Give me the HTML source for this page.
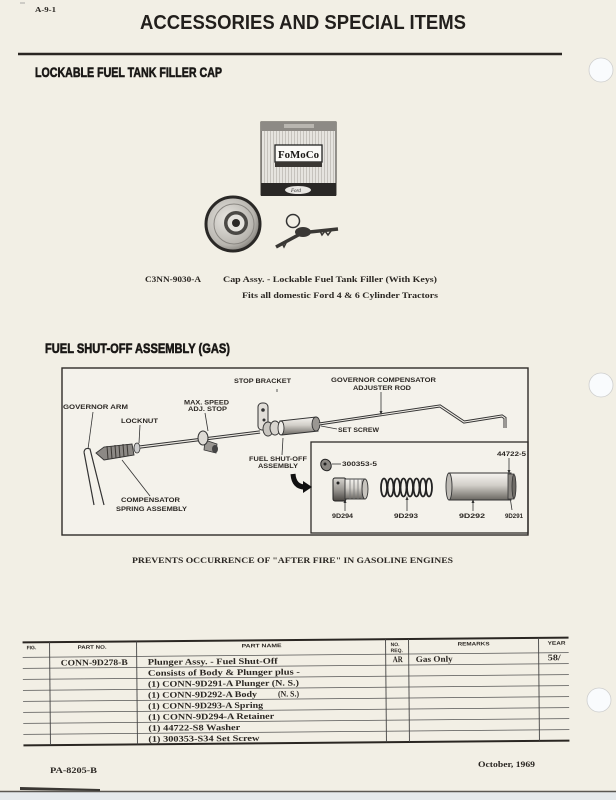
<!DOCTYPE html>
<html><head><meta charset="utf-8"><style>
html,body{margin:0;padding:0;background:#f2efe5;}
svg{display:block}
.s{font-family:"Liberation Serif",serif;font-weight:bold;fill:#2b2723}
.h{font-family:"Liberation Sans",sans-serif;font-weight:bold;fill:#221f1c}
.hh{font-family:"Liberation Sans",sans-serif;font-weight:bold;fill:#1a1816;stroke:#1a1816;stroke-width:0.6}
.l{font-family:"Liberation Sans",sans-serif;font-weight:bold;fill:#2b2723;font-size:6.5px}
.t{font-family:"Liberation Sans",sans-serif;font-weight:bold;fill:#2b2723;font-size:5px}
</style></head><body>
<svg width="616" height="800" viewBox="0 0 616 800" xmlns="http://www.w3.org/2000/svg">
<defs>
<linearGradient id="cyl" x1="0" y1="0" x2="0" y2="1">
 <stop offset="0" stop-color="#f6f4f0"/><stop offset="0.45" stop-color="#d2cfc9"/><stop offset="1" stop-color="#6a6762"/>
</linearGradient>
<linearGradient id="cyl2" x1="0" y1="0" x2="0" y2="1">
 <stop offset="0" stop-color="#d8d5d0"/><stop offset="0.5" stop-color="#9a9792"/><stop offset="1" stop-color="#4a4743"/>
</linearGradient>
<radialGradient id="capg" cx="0.4" cy="0.4" r="0.7">
 <stop offset="0" stop-color="#e8e6e1"/><stop offset="0.7" stop-color="#b8b5af"/><stop offset="1" stop-color="#6a6762"/>
</radialGradient>
<pattern id="stripes" width="3" height="10" patternUnits="userSpaceOnUse"><rect width="3" height="10" fill="#e6e4df"/><rect width="1" height="10" fill="#c6c3bd"/></pattern>
</defs>
<rect width="616" height="800" fill="#f2efe5"/>

<!-- header -->
<line x1="20" y1="3" x2="25" y2="3" stroke="#999" stroke-width="0.8"/>
<text class="s" x="35" y="12" font-size="7" textLength="21" lengthAdjust="spacingAndGlyphs">A-9-1</text>
<text class="h" x="140" y="29" font-size="20" textLength="326" lengthAdjust="spacingAndGlyphs">ACCESSORIES AND SPECIAL ITEMS</text>
<line x1="18" y1="54" x2="562" y2="54" stroke="#2a2622" stroke-width="2.6"/>
<text class="hh" x="35" y="77" font-size="14" textLength="187" lengthAdjust="spacingAndGlyphs">LOCKABLE FUEL TANK FILLER CAP</text>

<!-- holes -->
<circle cx="601" cy="70" r="12" fill="#f9fbfd" stroke="#cfcfcf" stroke-width="0.8"/>
<circle cx="601" cy="385" r="12" fill="#f9fbfd" stroke="#cfcfcf" stroke-width="0.8"/>
<circle cx="599" cy="700" r="12" fill="#f9fbfd" stroke="#cfcfcf" stroke-width="0.8"/>

<!-- FoMoCo box -->
<rect x="261" y="122" width="75" height="73" fill="url(#stripes)" stroke="#3a3733" stroke-width="1"/>
<rect x="261" y="122" width="75" height="9" fill="#8d8a85"/>
<rect x="284" y="124" width="30" height="4" fill="#b9b6b0"/>
<rect x="275" y="145" width="47" height="17" fill="#fbfaf7" stroke="#222" stroke-width="1.3"/>
<text x="278" y="158" font-family="Liberation Serif,serif" font-weight="bold" font-size="11" fill="#1a1816" textLength="41" lengthAdjust="spacingAndGlyphs">FoMoCo</text>
<rect x="275" y="162" width="47" height="5" fill="#3a3733"/>
<rect x="261" y="183" width="75" height="13" fill="#2a2826"/>
<ellipse cx="298" cy="190" rx="13" ry="4" fill="#e8e6e2"/>
<text x="291" y="192" font-family="Liberation Serif,serif" font-style="italic" font-size="5" fill="#222">Ford</text>

<!-- cap -->
<circle cx="233" cy="224" r="27" fill="url(#capg)" stroke="#2a2826" stroke-width="3"/>
<circle cx="234" cy="224" r="20" fill="none" stroke="#8a8782" stroke-width="1"/>
<circle cx="236" cy="223" r="12" fill="#4a4845"/>
<circle cx="236" cy="223" r="8.5" fill="#e4e2dd"/>
<circle cx="236" cy="223" r="4" fill="#2a2826"/>

<!-- keys -->
<circle cx="293" cy="221" r="6.5" fill="none" stroke="#333" stroke-width="1.5"/>
<line x1="276" y1="247" x2="302" y2="233" stroke="#3a3835" stroke-width="3.5"/>
<ellipse cx="303" cy="232" rx="8" ry="5" fill="#3a3835"/>
<line x1="300" y1="233" x2="338" y2="229" stroke="#3a3835" stroke-width="3.5"/>
<path d="M320,231 L322,235 L325,231 L328,235 L331,231" fill="none" stroke="#3a3835" stroke-width="1.5"/>
<path d="M282,243 L284,247 L287,241" fill="none" stroke="#3a3835" stroke-width="1.5"/>

<text class="s" x="145" y="282" font-size="8.5" textLength="56" lengthAdjust="spacingAndGlyphs">C3NN-9030-A</text>
<text class="s" x="223" y="282" font-size="8.5" textLength="214" lengthAdjust="spacingAndGlyphs">Cap Assy. - Lockable Fuel Tank Filler (With Keys)</text>
<text class="s" x="242" y="298" font-size="8.5" textLength="196" lengthAdjust="spacingAndGlyphs">Fits all domestic Ford 4 &amp; 6 Cylinder Tractors</text>

<!-- fuel shut-off heading -->
<text class="hh" x="45" y="353" font-size="14" textLength="185" lengthAdjust="spacingAndGlyphs">FUEL SHUT-OFF ASSEMBLY (GAS)</text>

<!-- diagram frame -->
<rect x="62" y="368" width="466" height="167" fill="#f4f2eb" stroke="#2f2c29" stroke-width="1.4"/>
<rect x="311" y="442" width="217" height="91" fill="none" stroke="#2f2c29" stroke-width="1.3"/>

<!-- governor arm -->
<path d="M84,452 Q85,447 90,449 L104,505 M84,452 L94,505" fill="none" stroke="#333" stroke-width="1.2"/>
<!-- spring assembly -->
<path d="M96,453 L104,447 L132,444 L134,455 L104,460 Z" fill="#8c8985" stroke="#333" stroke-width="0.9"/>
<g stroke="#3a3733" stroke-width="1">
<line x1="107" y1="446" x2="108" y2="459"/><line x1="111" y1="446" x2="112" y2="459"/><line x1="115" y1="445" x2="116" y2="458"/><line x1="119" y1="445" x2="120" y2="458"/><line x1="123" y1="444" x2="124" y2="457"/><line x1="127" y1="444" x2="128" y2="456"/>
</g>
<ellipse cx="137" cy="448" rx="3" ry="5" fill="#ccc" stroke="#333" stroke-width="0.8"/>
<!-- rod -->
<line x1="140" y1="447" x2="260" y2="432" stroke="#333" stroke-width="3.2"/>
<line x1="140" y1="447" x2="260" y2="432" stroke="#ebe8e1" stroke-width="1.3"/>
<!-- max speed stop -->
<path d="M205,440 L217,444 L216,453 L204,450 Z" fill="#9a9792" stroke="#333" stroke-width="0.8"/>
<ellipse cx="203" cy="438" rx="5" ry="7" fill="#dedbd5" stroke="#333" stroke-width="1"/>
<ellipse cx="215" cy="449" rx="3" ry="4" fill="#444"/>
<!-- stop bracket -->
<rect x="258" y="403" width="10" height="27" rx="4" fill="#e2dfd9" stroke="#333" stroke-width="1"/>
<circle cx="263" cy="410" r="1.8" fill="#333"/><circle cx="264" cy="420" r="1.5" fill="#333"/>
<ellipse cx="268" cy="429" rx="5" ry="7" fill="#c8c5bf" stroke="#333" stroke-width="0.9"/>
<ellipse cx="275" cy="428" rx="5" ry="7" fill="#d8d5cf" stroke="#333" stroke-width="0.9"/>
<!-- cylinder -->
<path d="M280,421 L316,417 L318,431 L282,435 Z" fill="url(#cyl)" stroke="#333" stroke-width="1"/>
<ellipse cx="281" cy="428" rx="3" ry="7" fill="#eeece7" stroke="#333" stroke-width="0.9"/>
<ellipse cx="316" cy="424" rx="4" ry="7" fill="#9a9792" stroke="#333" stroke-width="0.9"/>
<!-- adjuster rod -->
<polyline points="319,424 440,406 464,422 502,416 505,418 505,428" fill="none" stroke="#333" stroke-width="3"/>
<polyline points="319,424 440,406 464,422 502,416 505,418 505,428" fill="none" stroke="#eeebe4" stroke-width="1.1"/>

<!-- leaders -->
<g stroke="#333" stroke-width="0.8" fill="none">
<line x1="93" y1="412" x2="88" y2="449"/>
<line x1="140" y1="425" x2="139" y2="443"/>
<line x1="205" y1="413" x2="208" y2="431"/>
<line x1="277" y1="389" x2="277" y2="392"/>
<line x1="381" y1="392" x2="381" y2="412"/>
<line x1="337" y1="429" x2="321" y2="426"/>
<line x1="282" y1="455" x2="283" y2="438"/>
<line x1="150" y1="496" x2="122" y2="460"/>
<line x1="332" y1="464" x2="341" y2="464"/>
<line x1="509" y1="458" x2="509" y2="471"/>
<line x1="345" y1="511" x2="345" y2="502"/>
<line x1="407" y1="511" x2="407" y2="499"/>
<line x1="473" y1="511" x2="473" y2="502"/>
<line x1="512" y1="510" x2="510" y2="497"/>
</g>
<g fill="#333">
<path d="M343.5,503 L346.5,503 L345,499 Z"/>
<path d="M405.5,500 L408.5,500 L407,496 Z"/>
<path d="M471.5,503 L474.5,503 L473,499 Z"/>
<path d="M507.5,470 L510.5,470 L509,474 Z"/>
<path d="M379.5,411 L382.5,411 L381,415 Z"/>
</g>

<!-- curved arrow -->
<path d="M293,474 Q294,487 305,487" fill="none" stroke="#111" stroke-width="5"/>
<path d="M303,481 L312,487 L303,493 Z" fill="#111"/>

<!-- inset parts -->
<ellipse cx="326" cy="465" rx="5" ry="6" transform="rotate(-30 326 465)" fill="#8a8782" stroke="#222" stroke-width="1"/>
<circle cx="325" cy="464" r="1.5" fill="#222"/>
<!-- retainer -->
<rect x="333" y="478" width="13" height="23" rx="2" fill="url(#cyl2)" stroke="#222" stroke-width="1"/>
<circle cx="338" cy="483" r="1.5" fill="#222"/>
<rect x="345" y="479" width="20" height="20" fill="url(#cyl)" stroke="#333" stroke-width="0.9"/>
<g stroke="#777" stroke-width="0.8"><line x1="350" y1="479" x2="350" y2="499"/><line x1="354" y1="479" x2="354" y2="499"/><line x1="358" y1="479" x2="358" y2="499"/><line x1="362" y1="479" x2="362" y2="499"/></g>
<ellipse cx="365" cy="489" rx="3" ry="10" fill="#c7c4be" stroke="#333" stroke-width="0.9"/>
<!-- spring -->
<g fill="none" stroke="#222" stroke-width="1.8">
<ellipse cx="384" cy="487.5" rx="3" ry="9"/><ellipse cx="390.5" cy="487.5" rx="3" ry="9"/><ellipse cx="397" cy="487.5" rx="3" ry="9"/><ellipse cx="403.5" cy="487.5" rx="3" ry="9"/><ellipse cx="410" cy="487.5" rx="3" ry="9"/><ellipse cx="416.5" cy="487.5" rx="3" ry="9"/><ellipse cx="423" cy="487.5" rx="3" ry="9"/><ellipse cx="429" cy="487.5" rx="3" ry="9"/>
</g>
<!-- body -->
<rect x="449" y="473" width="62" height="27" fill="url(#cyl)" stroke="#333" stroke-width="1"/>
<ellipse cx="449" cy="486.5" rx="3" ry="13.5" fill="#bdbab4" stroke="#333" stroke-width="0.9"/>
<rect x="508" y="474" width="6" height="25" fill="#8a8782" stroke="#333" stroke-width="0.8"/>
<ellipse cx="514" cy="486.5" rx="2" ry="12" fill="#6e6b66" stroke="#333" stroke-width="0.8"/>

<!-- diagram labels -->
<text class="l" x="63" y="409" textLength="65" lengthAdjust="spacingAndGlyphs">GOVERNOR ARM</text>
<text class="l" x="121" y="423" textLength="37" lengthAdjust="spacingAndGlyphs">LOCKNUT</text>
<text class="l" x="184" y="404.5" textLength="45" lengthAdjust="spacingAndGlyphs">MAX. SPEED</text>
<text class="l" x="188" y="411" textLength="39" lengthAdjust="spacingAndGlyphs">ADJ. STOP</text>
<text class="l" x="234" y="383" textLength="57" lengthAdjust="spacingAndGlyphs">STOP BRACKET</text>
<text class="l" x="331" y="382" textLength="105" lengthAdjust="spacingAndGlyphs">GOVERNOR COMPENSATOR</text>
<text class="l" x="353" y="390" textLength="58" lengthAdjust="spacingAndGlyphs">ADJUSTER ROD</text>
<text class="l" x="338" y="432" textLength="41" lengthAdjust="spacingAndGlyphs">SET SCREW</text>
<text class="l" x="249" y="461" textLength="58" lengthAdjust="spacingAndGlyphs">FUEL SHUT-OFF</text>
<text class="l" x="258" y="468" textLength="40" lengthAdjust="spacingAndGlyphs">ASSEMBLY</text>
<text class="l" x="121" y="502" textLength="59" lengthAdjust="spacingAndGlyphs">COMPENSATOR</text>
<text class="l" x="116" y="511" textLength="71" lengthAdjust="spacingAndGlyphs">SPRING ASSEMBLY</text>
<text class="l" x="342" y="466" textLength="35" lengthAdjust="spacingAndGlyphs">300353-5</text>
<text class="l" x="497" y="456" textLength="29" lengthAdjust="spacingAndGlyphs">44722-5</text>
<text class="l" x="332" y="518" textLength="21" lengthAdjust="spacingAndGlyphs">9D294</text>
<text class="l" x="394" y="518" textLength="24" lengthAdjust="spacingAndGlyphs">9D293</text>
<text class="l" x="459" y="518" textLength="26" lengthAdjust="spacingAndGlyphs">9D292</text>
<text class="l" x="505" y="518" textLength="18" lengthAdjust="spacingAndGlyphs">9D291</text>

<text class="s" x="132" y="563" font-size="8.5" textLength="321" lengthAdjust="spacingAndGlyphs">PREVENTS OCCURRENCE OF "AFTER FIRE" IN GASOLINE ENGINES</text>

<!-- table -->
<g transform="rotate(-0.5 296 692)">
<line x1="23" y1="640" x2="569" y2="640" stroke="#2a2622" stroke-width="2"/>
<g stroke="#555" stroke-width="0.8">
<line x1="23" y1="655" x2="569" y2="655"/>
<line x1="23" y1="666" x2="569" y2="666"/>
<line x1="23" y1="677" x2="569" y2="677"/>
<line x1="23" y1="688" x2="569" y2="688"/>
<line x1="23" y1="699" x2="569" y2="699"/>
<line x1="23" y1="710" x2="569" y2="710"/>
<line x1="23" y1="721" x2="569" y2="721"/>
<line x1="23" y1="732" x2="569" y2="732"/>
</g>
<line x1="23" y1="743" x2="569" y2="743" stroke="#2a2622" stroke-width="2"/>
<g stroke="#444" stroke-width="0.9">
<line x1="50" y1="640" x2="50" y2="743"/>
<line x1="137" y1="640" x2="137" y2="743"/>
<line x1="386" y1="640" x2="386" y2="743"/>
<line x1="409" y1="640" x2="409" y2="743"/>
<line x1="539" y1="640" x2="539" y2="743"/>
</g>
<text class="t" x="27" y="647">FIG.</text>
<text class="t" x="78" y="647" textLength="29" lengthAdjust="spacingAndGlyphs">PART NO.</text>
<text class="t" x="242" y="647" textLength="40" lengthAdjust="spacingAndGlyphs">PART NAME</text>
<text class="t" x="391" y="647">NO.</text>
<text class="t" x="391" y="653">REQ.</text>
<text class="t" x="458" y="647" textLength="32" lengthAdjust="spacingAndGlyphs">REMARKS</text>
<text class="t" x="548" y="647" textLength="18" lengthAdjust="spacingAndGlyphs">YEAR</text>

<text class="s" x="61" y="663.5" font-size="8.5" textLength="67" lengthAdjust="spacingAndGlyphs">CONN-9D278-B</text>
<text class="s" x="148" y="663.5" font-size="8.5" textLength="130" lengthAdjust="spacingAndGlyphs">Plunger Assy. - Fuel Shut-Off</text>
<text class="s" x="148" y="674.5" font-size="8.5" textLength="152" lengthAdjust="spacingAndGlyphs">Consists of Body &amp; Plunger plus -</text>
<text class="s" x="148" y="685.5" font-size="8.5" textLength="151" lengthAdjust="spacingAndGlyphs">(1)  CONN-9D291-A  Plunger (N. S.)</text>
<text class="s" x="148" y="696.5" font-size="8.5" textLength="109" lengthAdjust="spacingAndGlyphs">(1)  CONN-9D292-A  Body</text>
<text class="s" x="278" y="696.5" font-size="8.5" textLength="21" lengthAdjust="spacingAndGlyphs">(N. S.)</text>
<text class="s" x="148" y="707.5" font-size="8.5" textLength="115" lengthAdjust="spacingAndGlyphs">(1)  CONN-9D293-A  Spring</text>
<text class="s" x="148" y="718.5" font-size="8.5" textLength="126" lengthAdjust="spacingAndGlyphs">(1)  CONN-9D294-A  Retainer</text>
<text class="s" x="148" y="729.5" font-size="8.5" textLength="92" lengthAdjust="spacingAndGlyphs">(1)  44722-S8  Washer</text>
<text class="s" x="148" y="740.5" font-size="8.5" textLength="111" lengthAdjust="spacingAndGlyphs">(1)  300353-S34  Set Screw</text>
<text class="s" x="393" y="663" font-size="8.5" textLength="10" lengthAdjust="spacingAndGlyphs">AR</text>
<text class="s" x="416" y="663" font-size="8.5" textLength="37" lengthAdjust="spacingAndGlyphs">Gas Only</text>
<text class="s" x="548" y="662.5" font-size="8.5" textLength="13" lengthAdjust="spacingAndGlyphs">58/</text>
</g>

<!-- footer -->
<text class="s" x="50" y="773" font-size="8" textLength="47" lengthAdjust="spacingAndGlyphs">PA-8205-B</text>
<text class="s" x="478" y="767" font-size="8" textLength="57" lengthAdjust="spacingAndGlyphs">October, 1969</text>

<!-- bottom edge -->
<rect x="0" y="792" width="616" height="8" fill="#e5e9ec"/>
<line x1="0" y1="791.5" x2="616" y2="791.5" stroke="#5a5752" stroke-width="1.6"/>
<path d="M20,787 L100,789 L100,791 L20,790 Z" fill="#3a3733"/>
</svg>
</body></html>
